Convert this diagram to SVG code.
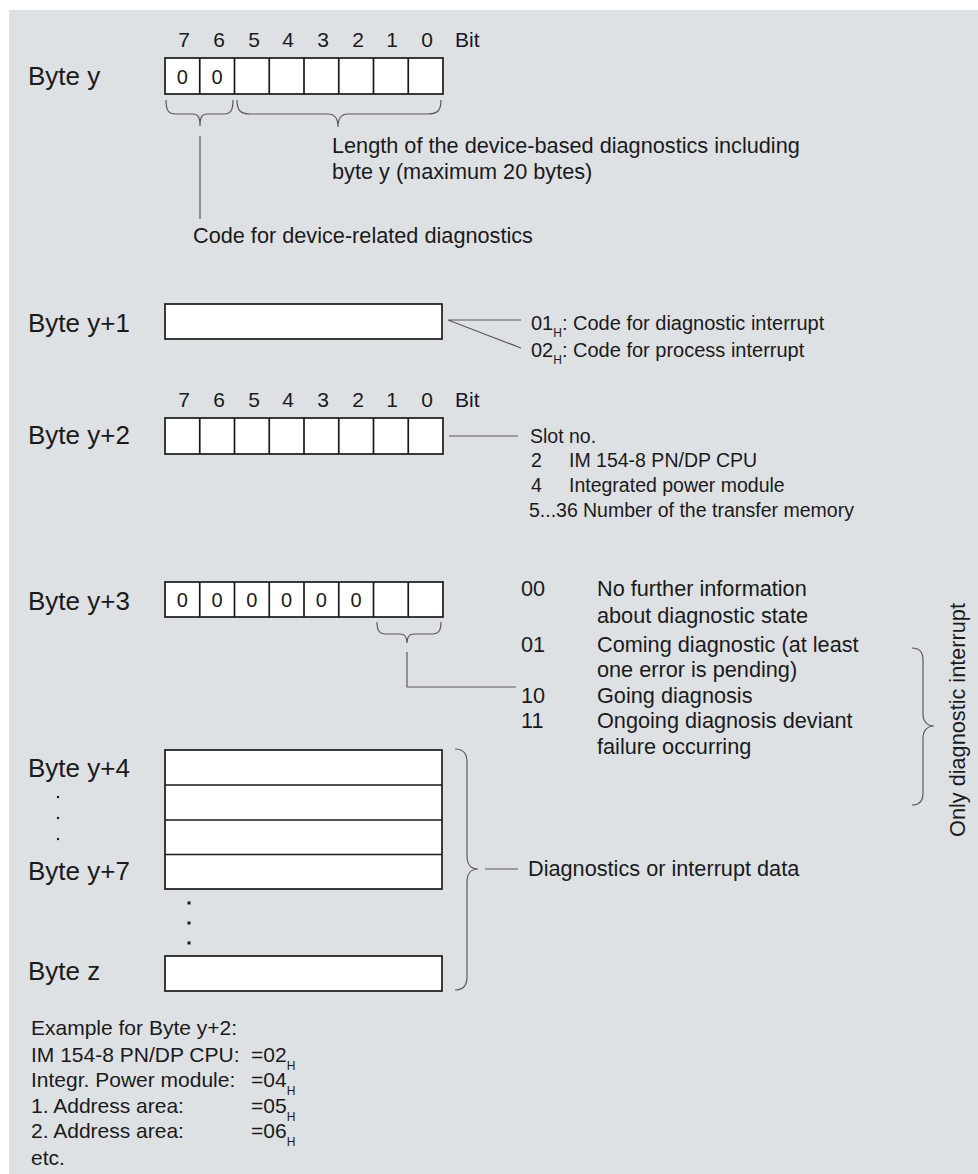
<svg xmlns="http://www.w3.org/2000/svg" width="978" height="1174" viewBox="0 0 978 1174">
  <style>
    .bg{fill:#dee1e4}
    .t{font-family:"Liberation Sans",Arial,Helvetica,sans-serif;fill:#1a1a1a}
    .lbl{font-size:26px}
    .body{font-size:21.7px}
    .ex{font-size:21px}
    .note{font-size:20px}
    .slot{font-size:19.5px}
    .bit{font-size:21px;text-anchor:middle}
    .bitw{font-size:21px}
    .zero{font-size:20px;text-anchor:middle}
    .mid{text-anchor:middle}
    .sub{font-size:12px}
    .box{fill:#fff;stroke:#1a1a1a;stroke-width:1.7}
    .div{fill:none;stroke:#1a1a1a;stroke-width:1.7}
    .ln{fill:none;stroke:#5a5a5a;stroke-width:1.2}
    .dot{fill:#1a1a1a}
  </style>

  <rect class="bg" x="9" y="10" width="969" height="1164"/>

  <!-- Byte y : header byte with bit numbering -->
  <g id="byte-y">
    <g class="t bit">
      <text x="184" y="47">7</text><text x="219" y="47">6</text><text x="254" y="47">5</text><text x="288" y="47">4</text>
      <text x="323" y="47">3</text><text x="358" y="47">2</text><text x="392" y="47">1</text><text x="427" y="47">0</text>
    </g>
    <text class="t bitw" x="455" y="47">Bit</text>
    <text class="t lbl" x="28" y="85">Byte y</text>
    <rect class="box" x="165" y="58" width="278" height="36"/>
    <path class="div" d="M199.75 58V94M234.5 58V94M269.25 58V94M304 58V94M338.75 58V94M373.5 58V94M408.25 58V94"/>
    <text class="t zero" x="182.4" y="84">0</text>
    <text class="t zero" x="217.1" y="84">0</text>
  </g>

  <!-- Byte y+1 -->
  <g id="byte-y1">
    <text class="t lbl" x="28" y="332">Byte y+1</text>
    <rect class="box" x="165" y="304" width="277" height="35"/>
  </g>

  <!-- Byte y+2 : slot number -->
  <g id="byte-y2">
    <g class="t bit">
      <text x="184" y="407">7</text><text x="219" y="407">6</text><text x="254" y="407">5</text><text x="288" y="407">4</text>
      <text x="323" y="407">3</text><text x="358" y="407">2</text><text x="392" y="407">1</text><text x="427" y="407">0</text>
    </g>
    <text class="t bitw" x="455" y="407">Bit</text>
    <text class="t lbl" x="28" y="444">Byte y+2</text>
    <rect class="box" x="165" y="418" width="278" height="36"/>
    <path class="div" d="M199.75 418V454M234.5 418V454M269.25 418V454M304 418V454M338.75 418V454M373.5 418V454M408.25 418V454"/>
  </g>

  <!-- Byte y+3 : diagnostic state -->
  <g id="byte-y3">
    <text class="t lbl" x="28" y="610">Byte y+3</text>
    <rect class="box" x="165" y="582" width="278" height="35"/>
    <path class="div" d="M199.75 582V617M234.5 582V617M269.25 582V617M304 582V617M338.75 582V617M373.5 582V617M408.25 582V617"/>
    <g class="t zero">
      <text x="182.4" y="607">0</text><text x="217.1" y="607">0</text><text x="251.9" y="607">0</text>
      <text x="286.6" y="607">0</text><text x="321.4" y="607">0</text><text x="356.1" y="607">0</text>
    </g>
  </g>

  <!-- Byte y+4 ... y+7 -->
  <g id="byte-y4-y7">
    <text class="t lbl" x="28" y="777">Byte y+4</text>
    <text class="t lbl" x="28" y="880">Byte y+7</text>
    <circle class="dot" cx="58" cy="797" r="1.2"/>
    <circle class="dot" cx="58" cy="818" r="1.2"/>
    <circle class="dot" cx="58" cy="839" r="1.2"/>
    <rect class="box" x="165" y="750" width="277" height="139"/>
    <path class="div" d="M165 785H442M165 820H442M165 854.5H442"/>
    <rect class="dot" x="187.5" y="901.5" width="3" height="3"/>
    <rect class="dot" x="187.5" y="921.5" width="3" height="3"/>
    <rect class="dot" x="187.5" y="941.5" width="3" height="3"/>
  </g>

  <!-- Byte z -->
  <g id="byte-z">
    <text class="t lbl" x="28" y="980">Byte z</text>
    <rect class="box" x="165" y="956" width="277" height="35"/>
  </g>

  <!-- braces and leader lines -->
  <g id="connectors">
    <path class="ln" d="M166 100C166 110 168 114 176 114L193 114C198 114 200 117 200 126C200 117 202 114 207 114L224 114C231 114 233 110 233 100"/>
    <path class="ln" d="M237 100C237 110 240 114 250 114L328 114C335 114 338 118 338 127C338 118 341 114 348 114L428 114C438 114 441 110 441 100"/>
    <path class="ln" d="M200 136V219"/>
    <path class="ln" d="M448 320H521M448 320L521 348"/>
    <path class="ln" d="M449 436H518"/>
    <path class="ln" d="M377 622C377 630 379 634 386 634L400 634C405 634 407 637 407 643C407 637 409 634 414 634L432 634C439 634 441 630 441 622"/>
    <path class="ln" d="M407 652V687H516"/>
    <path class="ln" d="M455 749C463 749 467 753 467 762L467 856C467 864 471 869 478 869C471 869 467 874 467 882L467 977C467 986 463 990 455 990"/>
    <path class="ln" d="M485 869H518"/>
    <path class="ln" d="M912 648C920 648 923 652 923 660L923 714C923 721 927 726 934 726C927 726 923 731 923 738L923 793C923 801 920 805 912 805"/>
  </g>

  <!-- explanatory texts -->
  <g id="notes" class="t">
    <text class="body" x="332" y="153">Length of the device-based diagnostics including</text>
    <text class="body" x="332" y="179">byte y (maximum 20 bytes)</text>
    <text class="body" x="193" y="243">Code for device-related diagnostics</text>

    <text class="note" x="531" y="330">01<tspan class="sub" dy="7">H</tspan><tspan dy="-7">: Code for diagnostic interrupt</tspan></text>
    <text class="note" x="531" y="357">02<tspan class="sub" dy="7">H</tspan><tspan dy="-7">: Code for process interrupt</tspan></text>

    <text class="slot" x="530" y="443">Slot no.</text>
    <text class="slot" x="531" y="467">2</text><text class="slot" x="569" y="467">IM 154-8 PN/DP CPU</text>
    <text class="slot" x="531" y="492">4</text><text class="slot" x="569" y="492">Integrated power module</text>
    <text class="slot" x="529" y="517">5...36</text><text class="slot" x="583" y="517">Number of the transfer memory</text>

    <text class="body" x="521" y="596">00</text><text class="body" x="597" y="596">No further information</text>
    <text class="body" x="597" y="623">about diagnostic state</text>
    <text class="body" x="521" y="652">01</text><text class="body" x="597" y="652">Coming diagnostic (at least</text>
    <text class="body" x="597" y="677">one error is pending)</text>
    <text class="body" x="521" y="703">10</text><text class="body" x="597" y="703">Going diagnosis</text>
    <text class="body" x="521" y="728">11</text><text class="body" x="597" y="728">Ongoing diagnosis deviant</text>
    <text class="body" x="597" y="754">failure occurring</text>

    <text class="body mid" transform="translate(965 720) rotate(-90)">Only diagnostic interrupt</text>

    <text class="body" x="528" y="876">Diagnostics or interrupt data</text>

    <text class="ex" x="31" y="1035">Example for Byte y+2:</text>
    <text class="ex" x="31" y="1062">IM 154-8 PN/DP CPU:</text><text class="ex" x="251" y="1062">=02<tspan class="sub" dy="8">H</tspan></text>
    <text class="ex" x="31" y="1087">Integr. Power module:</text><text class="ex" x="251" y="1087">=04<tspan class="sub" dy="8">H</tspan></text>
    <text class="ex" x="31" y="1113">1. Address area:</text><text class="ex" x="251" y="1113">=05<tspan class="sub" dy="8">H</tspan></text>
    <text class="ex" x="31" y="1138">2. Address area:</text><text class="ex" x="251" y="1138">=06<tspan class="sub" dy="8">H</tspan></text>
    <text class="ex" x="31" y="1165">etc.</text>
  </g>
</svg>
